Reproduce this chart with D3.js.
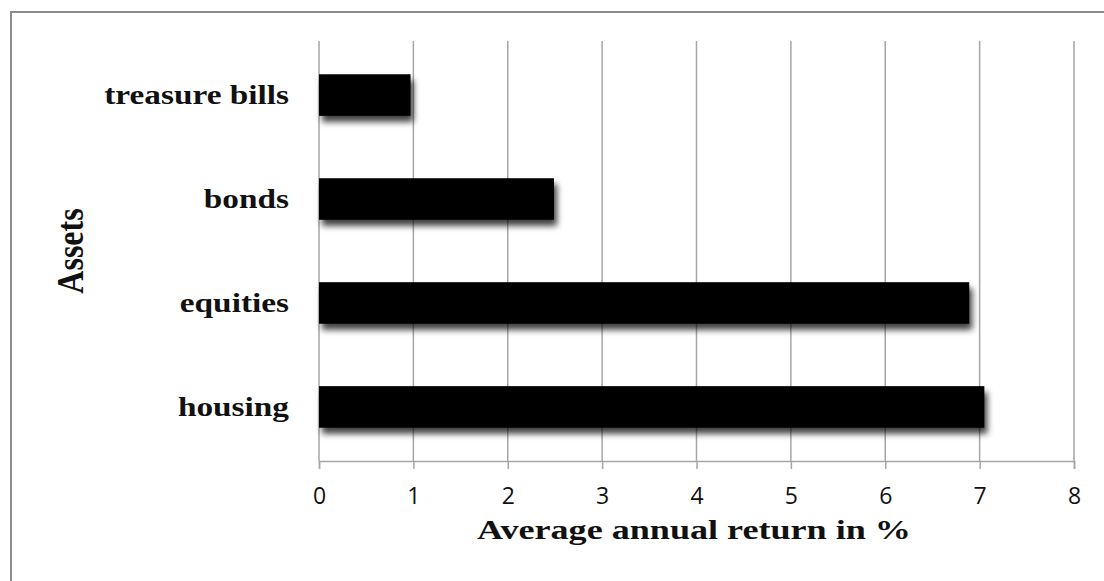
<!DOCTYPE html>
<html>
<head>
<meta charset="utf-8">
<script src="https://cdn.jsdelivr.net/npm/d3@7"></script>
<style>
  body { margin: 0; background: #fff; }
  .grid line { stroke: #a6a6a6; stroke-width: 1.5; }
</style>
</head>
<body>
<svg id="chart" width="1104" height="581"></svg>
<script>
// data
var assets = ["treasure bills", "bonds", "equities", "housing"];
var returns = [0.97, 2.49, 6.89, 7.05];
var xTicks = [0, 1, 2, 3, 4, 5, 6, 7, 8];

var svg = d3.select("#chart");

var plotLeft = 319, plotRight = 1074, plotTop = 41, plotBottom = 461;

// chart frame (only left and top edges show in the picture)
svg.append("rect")
  .attr("x", 11).attr("y", 12)
  .attr("width", 1200).attr("height", 700)
  .attr("fill", "none")
  .attr("stroke", "#8c8c8c")
  .attr("stroke-width", 2);

var defs = svg.append("defs");
var f = defs.append("filter").attr("id", "shadow")
  .attr("x", "-5%").attr("y", "-20%").attr("width", "115%").attr("height", "160%");
f.append("feDropShadow")
  .attr("dx", 3).attr("dy", 6)
  .attr("stdDeviation", 3)
  .attr("flood-color", "#000")
  .attr("flood-opacity", 0.75);

var x = d3.scaleLinear().domain([0, 8]).range([plotLeft, plotRight]);
var y = d3.scaleBand().domain(assets).range([plotTop, plotBottom])
  .paddingInner(0.6).paddingOuter(0.32);

// vertical gridlines
svg.append("g").attr("class", "grid")
  .selectAll("line")
  .data(xTicks)
  .enter().append("line")
  .attr("x1", function(d) { return x(d); })
  .attr("x2", function(d) { return x(d); })
  .attr("y1", plotTop)
  .attr("y2", plotBottom);

// x axis
var xAxis = svg.append("g")
  .attr("transform", "translate(0," + plotBottom + ")")
  .call(d3.axisBottom(x).tickValues(xTicks).tickSize(8).tickPadding(19).tickFormat(d3.format("d")));
xAxis.select(".domain").attr("stroke", "#a6a6a6").attr("stroke-width", 1.5);
xAxis.selectAll(".tick line").attr("stroke", "#a6a6a6").attr("stroke-width", 1.5);
xAxis.selectAll("text")
  .attr("font-family", "'Open Sans', sans-serif")
  .attr("font-size", 23)
  .attr("fill", "#111");

// bars
var bars = assets.map(function(a, i) { return { name: a, value: returns[i] }; });
svg.append("g").selectAll("rect")
  .data(bars)
  .enter().append("rect")
  .attr("x", x(0))
  .attr("y", function(d) { return y(d.name); })
  .attr("width", function(d) { return x(d.value) - x(0); })
  .attr("height", y.bandwidth())
  .attr("fill", "#000")
  .attr("filter", "url(#shadow)");

// category labels (the picture's serif text is stretched sideways)
svg.append("g").selectAll("text")
  .data(assets)
  .enter().append("text")
  .attr("transform", function(d) {
    return "translate(289," + (y(d) + y.bandwidth() / 2 + 9) + ") scale(1.19,1)";
  })
  .attr("text-anchor", "end")
  .attr("font-family", "'Liberation Serif', serif")
  .attr("font-weight", "bold")
  .attr("font-size", 28)
  .attr("fill", "#111")
  .text(function(d) { return d; });

// axis titles
svg.append("text")
  .attr("transform", "translate(694,539) scale(1.29,1)")
  .attr("text-anchor", "middle")
  .attr("font-family", "'Liberation Serif', serif")
  .attr("font-weight", "bold")
  .attr("font-size", 28)
  .attr("fill", "#111")
  .text("Average annual return in %");

svg.append("text")
  .attr("transform", "translate(83," + ((plotTop + plotBottom) / 2) + ") scale(1.2,1) rotate(-90)")
  .attr("text-anchor", "middle")
  .attr("font-family", "'Liberation Serif', serif")
  .attr("font-weight", "bold")
  .attr("font-size", 32)
  .attr("fill", "#111")
  .text("Assets");
</script>
</body>
</html>
